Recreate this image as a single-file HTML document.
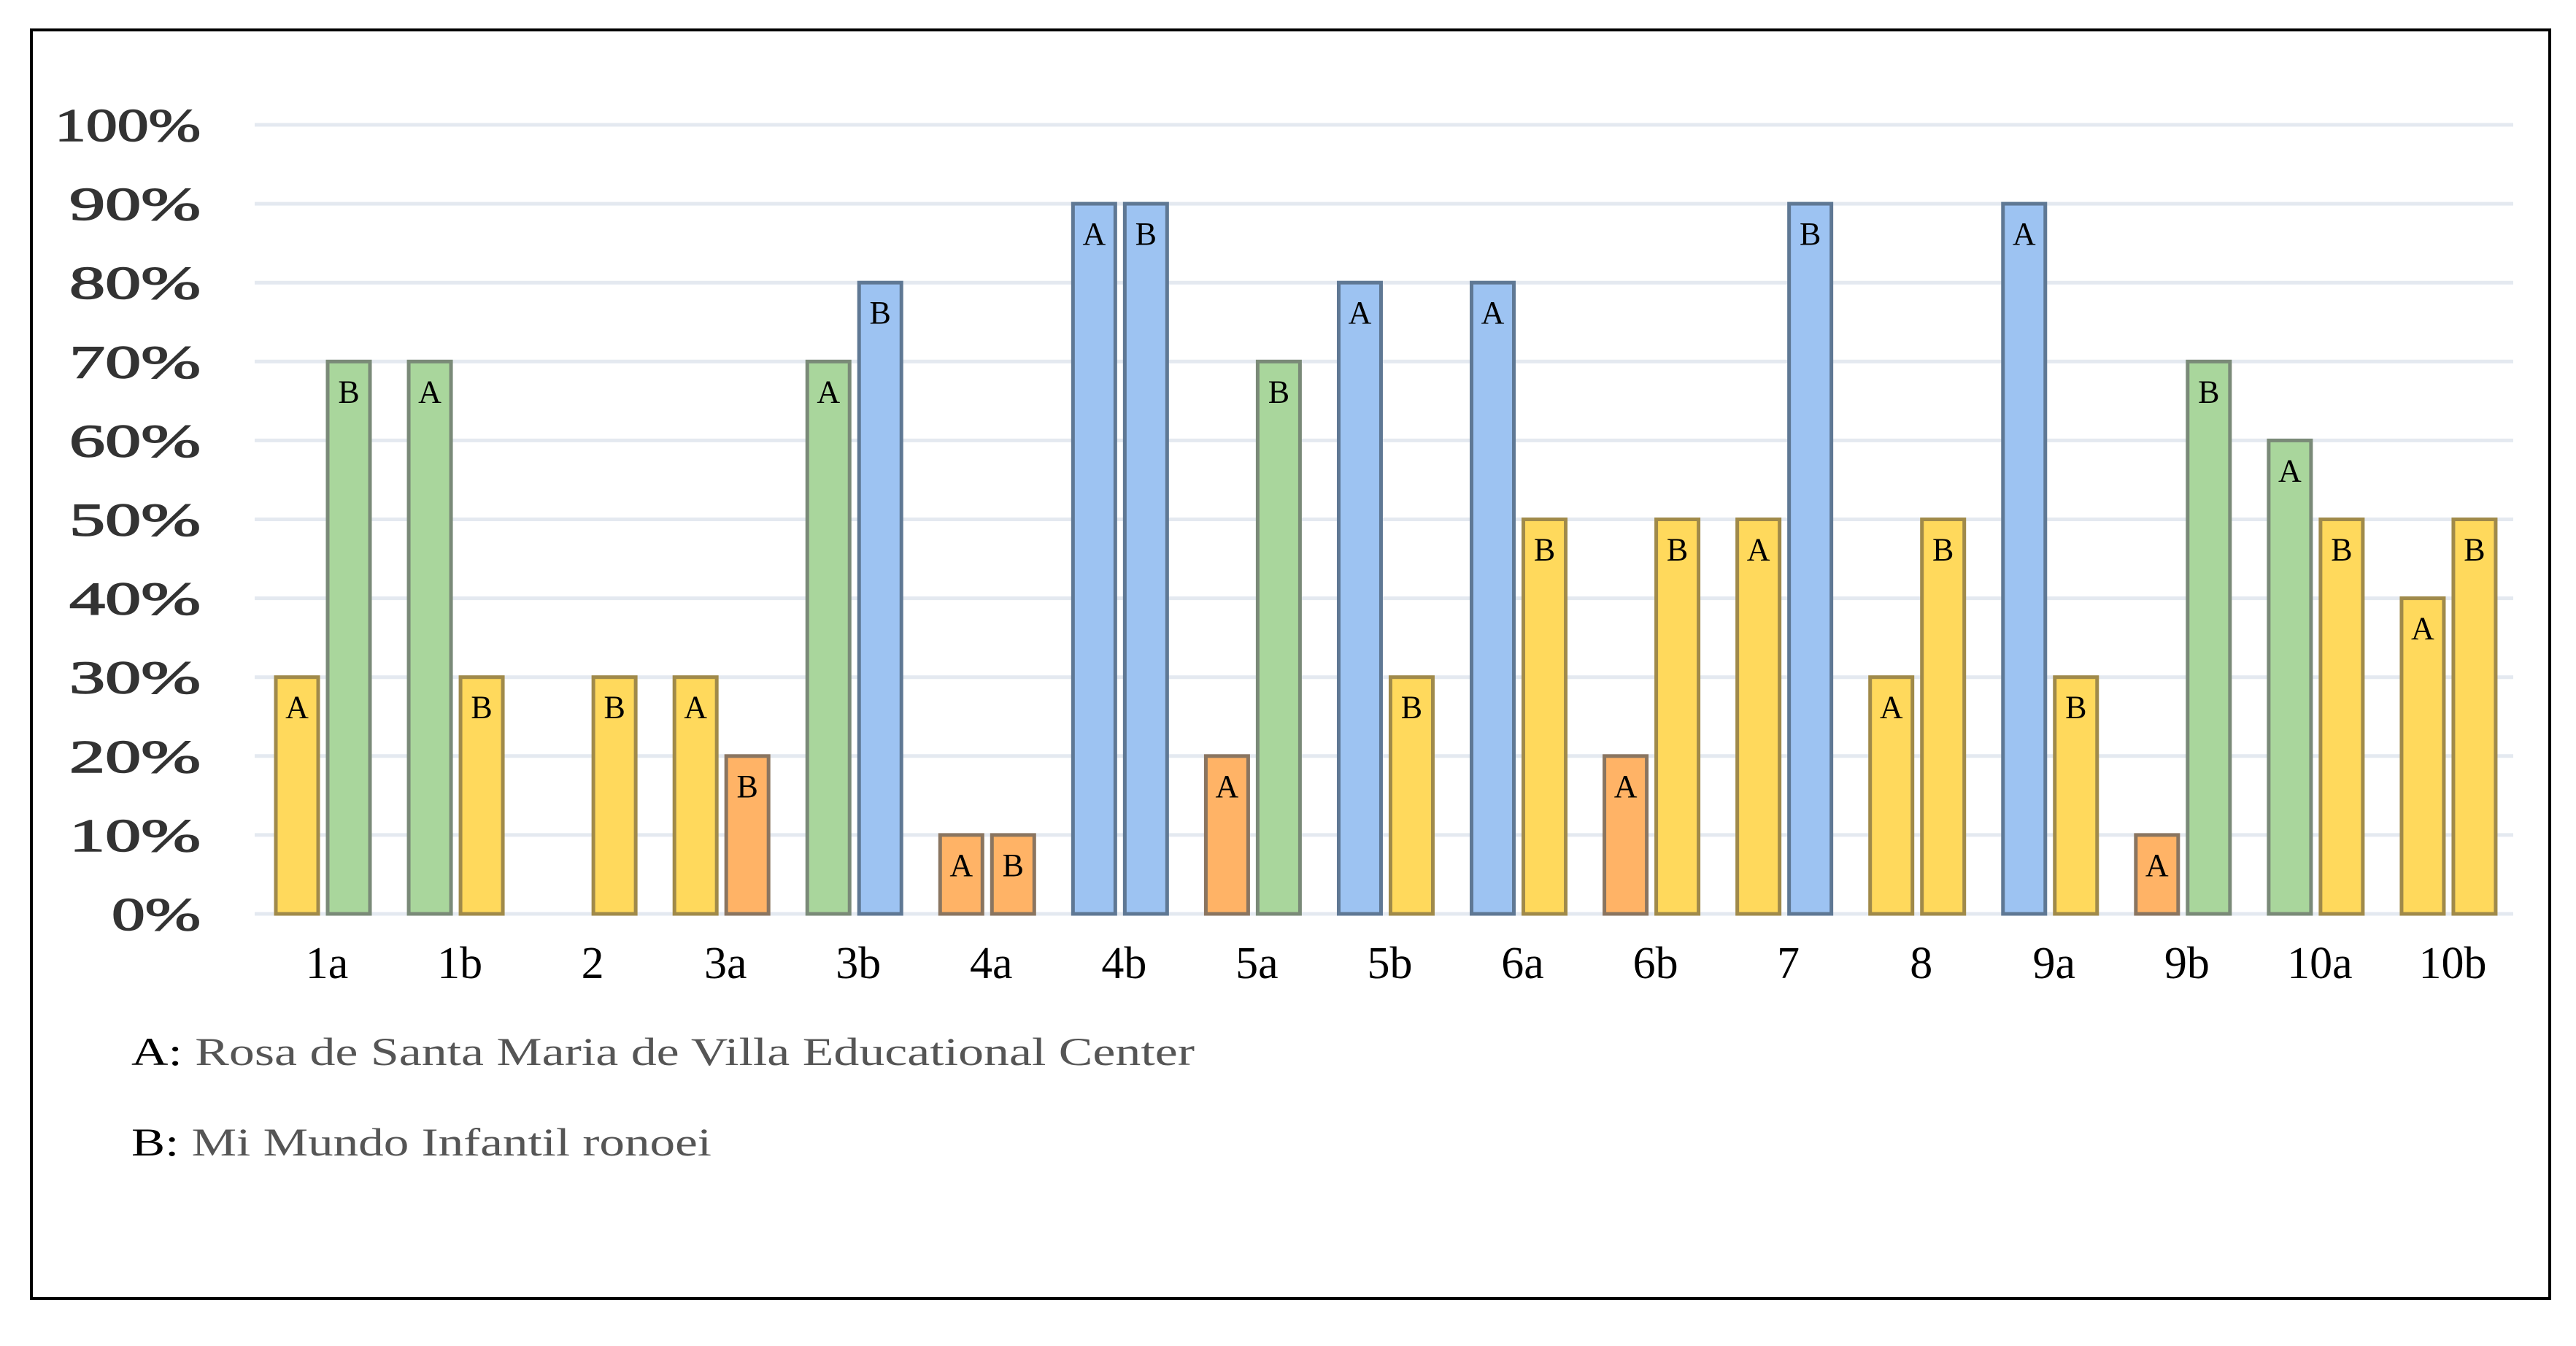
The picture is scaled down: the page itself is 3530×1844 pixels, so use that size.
<!DOCTYPE html>
<html><head><meta charset="utf-8"><style>
html,body{margin:0;padding:0;background:#fff;}
svg{display:block;}
text{font-family:"Liberation Serif",serif;}
</style></head><body>
<svg id="chart" width="3530" height="1844" viewBox="0 0 3530 1844" xmlns="http://www.w3.org/2000/svg">
<rect x="43" y="41" width="3451" height="1738" fill="#fff" stroke="#000" stroke-width="4"/>
<g id="grid"></g>
<g id="ylabels"></g>
<g id="bars"></g>
<g id="xlabels"></g>
<g>
<text x="180" y="1459" font-size="54" fill="#555" textLength="1457" lengthAdjust="spacingAndGlyphs"><tspan fill="#000">A:</tspan> Rosa de Santa Maria de Villa Educational Center</text>
<text x="180" y="1583" font-size="54" fill="#555" textLength="795" lengthAdjust="spacingAndGlyphs"><tspan fill="#000">B:</tspan> Mi Mundo Infantil ronoei</text>
</g>
</svg>
<script>
const categories = ["1a","1b","2","3a","3b","4a","4b","5a","5b","6a","6b","7","8","9a","9b","10a","10b"];
const seriesA = [30,70,0,30,70,10,90,20,80,80,20,50,30,90,10,60,40];
const seriesB = [70,30,30,20,80,10,90,70,30,50,50,90,50,30,70,50,50];
const yTicks = [0,10,20,30,40,50,60,70,80,90,100];
const yTickLabels = ["0%","10%","20%","30%","40%","50%","60%","70%","80%","90%","100%"];

const NS = "http://www.w3.org/2000/svg";
const plotL = 349, plotR = 3444, y0 = 1252, y100 = 171;
const band = (plotR - plotL) / categories.length;
function yScale(v){ return y0 - (y0 - y100) * v / 100; }
function xBand(i){ return plotL + band * i; }
function colorFor(v){
  if (v <= 20) return ["#FFB366","#8a7560"];
  if (v <= 50) return ["#FFD95C","#a08a4a"];
  if (v <= 70) return ["#A9D69C","#7a8a78"];
  return ["#9DC3F2","#5f7894"];
}
function mk(tag, attrs){ const e = document.createElementNS(NS, tag); for (const k in attrs) e.setAttribute(k, attrs[k]); return e; }

const grid = document.getElementById("grid"), yl = document.getElementById("ylabels");
yTicks.forEach((t, i) => {
  const g = mk("line", {x1: plotL, x2: plotR, y1: yScale(t), y2: yScale(t), stroke: "#e4e9f0", "stroke-width": 5});
  
  
  grid.appendChild(g);
  const txt = yTickLabels[i];
  const w = txt.length >= 4 ? 200 : (txt.length === 3 ? 180 : 122);
  const l = mk("text", {x: 275, y: yScale(t) + 22, "font-size": 64, "text-anchor": "end", fill: "#333", stroke: "#333", "stroke-width": 1.5, textLength: w, lengthAdjust: "spacingAndGlyphs"});
  
  
  l.textContent = txt;
  yl.appendChild(l);
});

const bars = document.getElementById("bars"), xl = document.getElementById("xlabels");
const bw = 58, offA = 29, gap = 13;
categories.forEach((c, i) => {
  [[seriesA[i], offA, "A"], [seriesB[i], offA + bw + gap, "B"]].forEach(([v, off, letter]) => {
    if (v <= 0) return;
    const [fill, stroke] = colorFor(v);
    const x = xBand(i) + off, y = yScale(v);
    const r = mk("rect", {x: x, y: y, width: bw, height: y0 - y, fill: fill, stroke: stroke, "stroke-width": 5});
    
    
    bars.appendChild(r);
    const t = mk("text", {x: x + bw / 2, y: y + 56, "font-size": 44, "text-anchor": "middle", fill: "#000"});
    
    
    t.textContent = letter;
    bars.appendChild(t);
  });
  const lab = mk("text", {x: xBand(i) + band / 2 + 8, y: 1340, "font-size": 62, "text-anchor": "middle", fill: "#000"});
  
  
  lab.textContent = c;
  xl.appendChild(lab);
});
</script>
</body></html>
